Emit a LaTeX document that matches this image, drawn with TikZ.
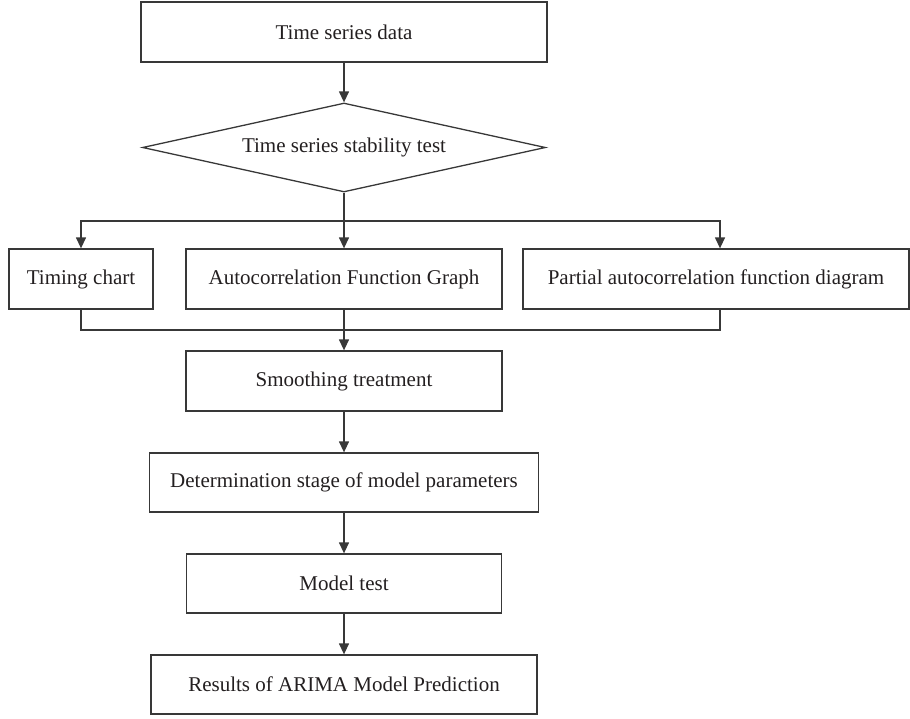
\documentclass[tikz,border=0pt]{standalone}
\usepackage{fontspec}
\setmainfont{Liberation Serif}
\usetikzlibrary{shapes.geometric, arrows.meta}
\definecolor{inkline}{HTML}{383838}
\definecolor{inktext}{HTML}{231F20}
\begin{document}
\begin{tikzpicture}[x=1pt, y=-1pt,
  label text/.style={font=\fontsize{21}{25}\selectfont, text=inktext},
  stepbox/.style={label text, draw=inkline, line width=1.3pt, rectangle, inner sep=0pt, minimum height=60pt},
  decision/.style={label text, draw=inkline, line width=1.3pt, diamond, aspect=4.5, inner sep=0pt,
                   minimum width=403pt, minimum height=89pt},
  flow/.style={draw=inkline, line width=1.3pt, -{Triangle[length=11pt, width=10pt]}},
  link/.style={draw=inkline, line width=1.3pt},
]
\useasboundingbox (0,0) rectangle (910,718);

% main column
\node[stepbox, minimum width=406pt] (data) at (344,32) {Time series data};
\node[decision] (test) at (344,147.5) {Time series stability test};

% three diagnostic charts
\node[stepbox, minimum width=144pt] (timing) at (81,279) {Timing chart};
\node[stepbox, minimum width=316pt] (acf) at (344,279) {Autocorrelation Function Graph};
\node[stepbox, minimum width=386pt] (pacf) at (716,279) {Partial autocorrelation function diagram};

% modelling steps
\node[stepbox, minimum width=316pt] (smooth) at (344,381) {Smoothing treatment};
\node[stepbox, minimum width=389pt, minimum height=59pt] (param) at (344,482.5) {Determination stage of model parameters};
\node[stepbox, minimum width=315pt, minimum height=59pt] (check) at (344,583.5) {Model test};
\node[stepbox, minimum width=386pt, minimum height=59pt] (result) at (344,684.5) {Results of ARIMA Model Prediction};

% branching and merging points
\coordinate (split) at (344,221);
\coordinate (merge) at (344,330);
\coordinate (pacfin) at ([xshift=4pt]pacf.north);
\coordinate (pacfout) at ([xshift=4pt]pacf.south);

% connectors
\draw[flow] (data) -- (test);
\draw[flow] (test.south) -- (acf.north);
\draw[flow] (split) -| (timing.north);
\draw[flow] (split) -| (pacfin);
\draw[link] (timing.south) |- (merge);
\draw[link] (pacfout) |- (merge);
\draw[flow] (acf.south) -- (smooth.north);
\draw[flow] (smooth) -- (param);
\draw[flow] (param) -- (check);
\draw[flow] (check) -- (result);
\end{tikzpicture}
\end{document}
